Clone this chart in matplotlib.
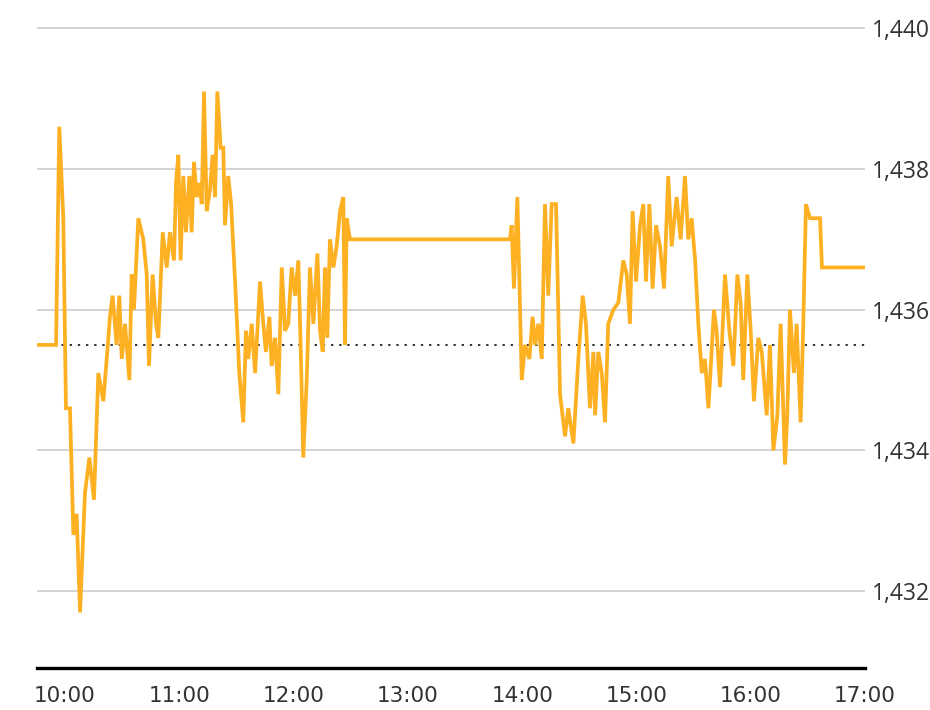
import numpy as np
import matplotlib
matplotlib.use("Agg")
import matplotlib.pyplot as plt

# minutes after 10:00, price
minutes = [-14.7, -4.7, -3.0, -0.9, 0.5, 2.6, 4.4, 6.1, 7.9, 10.5, 12.8, 15.2, 17.5, 20.1,
           22.2, 23.6, 25.0, 27.1, 28.5, 29.8, 31.5, 33.8, 35.0, 36.2, 38.5, 41.1, 42.9,
           44.1, 46.0, 47.8, 49.0, 51.3, 53.4, 55.1, 57.2, 58.3, 59.5, 60.7, 62.1, 63.5,
           65.3, 66.5, 67.7, 69.1, 70.5, 71.8, 73.0, 74.4, 76.1, 77.5, 78.8, 80.0, 81.7,
           83.1, 84.0, 85.7, 87.2, 89.3, 91.5, 93.6, 95.0, 96.2, 98.0, 99.8, 102.4, 104.1,
           105.5, 107.3, 108.5, 110.3, 112.0, 113.8, 115.5, 117.2, 119.0, 120.8, 122.5,
           123.7, 125.1, 126.9, 128.6, 130.4, 132.5, 133.9, 135.3, 136.5, 137.7, 139.1,
           140.9, 142.6, 144.4, 146.1, 147.0, 147.9, 149.6,
           233.6, 234.5, 235.7, 237.5, 239.8, 241.5, 243.8, 245.5, 246.8, 248.5, 250.3,
           252.0, 253.7, 255.5, 257.8, 259.9, 262.5, 264.2, 266.9, 269.5, 271.8, 273.5,
           275.6, 277.4, 278.3, 280.0, 281.8, 283.5, 285.2, 287.9, 290.5, 293.1, 294.9,
           296.6, 298.0, 299.8, 301.9, 303.6, 305.0, 306.8, 308.5, 310.3, 312.4, 314.5,
           316.7, 318.5, 321.1, 323.2, 325.5, 327.2, 329.0, 330.8, 332.5, 334.3, 336.0,
           337.8, 340.7, 342.1, 343.9, 346.5, 348.8, 350.9, 353.0, 354.7, 356.1, 358.2,
           360.0, 361.7, 364.0, 365.8, 368.4, 370.1, 371.9, 374.0, 375.7, 378.0, 379.2,
           380.6, 382.7, 384.1, 386.2, 387.6, 389.0, 391.1, 396.4, 397.4, 420.0]
price = [1435.5, 1435.5, 1438.6, 1437.3, 1434.6, 1434.6, 1432.8, 1433.1, 1431.7, 1433.4,
         1433.9, 1433.3, 1435.1, 1434.7, 1435.4, 1435.9, 1436.2, 1435.5, 1436.2, 1435.3,
         1435.8, 1435.0, 1436.5, 1436.0, 1437.3, 1437.0, 1436.5, 1435.2, 1436.5, 1435.8,
         1435.6, 1437.1, 1436.6, 1437.1, 1436.7, 1437.8, 1438.2, 1436.7, 1437.9, 1437.1,
         1437.9, 1437.1, 1438.1, 1437.6, 1437.8, 1437.5, 1439.1, 1437.4, 1437.7, 1438.2,
         1437.6, 1439.1, 1438.3, 1438.3, 1437.2, 1437.9, 1437.5, 1436.4, 1435.1, 1434.4,
         1435.7, 1435.3, 1435.8, 1435.1, 1436.4, 1435.8, 1435.4, 1435.9, 1435.2, 1435.6,
         1434.8, 1436.6, 1435.7, 1435.8, 1436.6, 1436.2, 1436.7, 1435.5, 1433.9, 1435.0,
         1436.6, 1435.8, 1436.8, 1435.7, 1435.4, 1436.6, 1435.6, 1437.0, 1436.6, 1436.9,
         1437.4, 1437.6, 1435.5, 1437.3, 1437.0,
         1437.0, 1437.2, 1436.3, 1437.6, 1435.0, 1435.5, 1435.3, 1435.9, 1435.5, 1435.8,
         1435.3, 1437.5, 1436.2, 1437.5, 1437.5, 1434.8, 1434.2, 1434.6, 1434.1, 1435.3,
         1436.2, 1435.8, 1434.6, 1435.4, 1434.5, 1435.4, 1435.1, 1434.4, 1435.8, 1436.0,
         1436.1, 1436.7, 1436.5, 1435.8, 1437.4, 1436.4, 1437.2, 1437.5, 1436.4, 1437.5,
         1436.3, 1437.2, 1436.9, 1436.3, 1437.9, 1436.9, 1437.6, 1437.0, 1437.9, 1437.0,
         1437.3, 1436.7, 1435.8, 1435.1, 1435.3, 1434.6, 1436.0, 1435.7, 1434.9, 1436.5,
         1435.7, 1435.2, 1436.5, 1436.1, 1435.0, 1436.5, 1435.7, 1434.7, 1435.6, 1435.4,
         1434.5, 1435.5, 1434.0, 1434.5, 1435.8, 1433.8, 1434.5, 1436.0, 1435.1, 1435.8,
         1434.4, 1435.8, 1437.5, 1437.3, 1437.3, 1436.6, 1436.6]
prev_close = 1435.5

y_ticks = [1432, 1434, 1436, 1438, 1440]
y_labels = ["1,432", "1,434", "1,436", "1,438", "1,440"]
x_ticks = [0, 60, 120, 180, 240, 300, 360, 420]
x_labels = ["10:00", "11:00", "12:00", "13:00", "14:00", "15:00", "16:00", "17:00"]

fig = plt.figure(figsize=(9.3, 7.1), dpi=100)
ax = fig.add_axes([37 / 930, 42 / 710, 828 / 930, 668 / 710])

ax.plot(minutes, price, color="#FDB022", lw=2.7, solid_joinstyle="miter", zorder=3)
ax.axhline(prev_close, color="#333333", lw=1.4, ls=(0, (1.2, 3)), zorder=2)

ax.set_xlim(-14.7, 420)
ax.set_ylim(1430.91, 1440.4)

ax.set_yticks(y_ticks)
ax.set_yticklabels(y_labels, fontsize=16.5, color="#333333", family=["Open Sans", "DejaVu Sans"])
ax.yaxis.tick_right()
ax.tick_params(axis="y", length=0, pad=5)
ax.grid(axis="y", color="#D4D4D4", lw=1.4)
ax.set_axisbelow(True)

ax.set_xticks(x_ticks)
ax.set_xticklabels(x_labels, fontsize=15.5, color="#333333",
                   family=["Liberation Sans Narrow", "DejaVu Sans"])
ax.tick_params(axis="x", length=0, pad=13)

for s in ["top", "left", "right"]:
    ax.spines[s].set_visible(False)
ax.spines["bottom"].set_color("black")
ax.spines["bottom"].set_linewidth(2.4)

fig.savefig("out.png", dpi=100)
